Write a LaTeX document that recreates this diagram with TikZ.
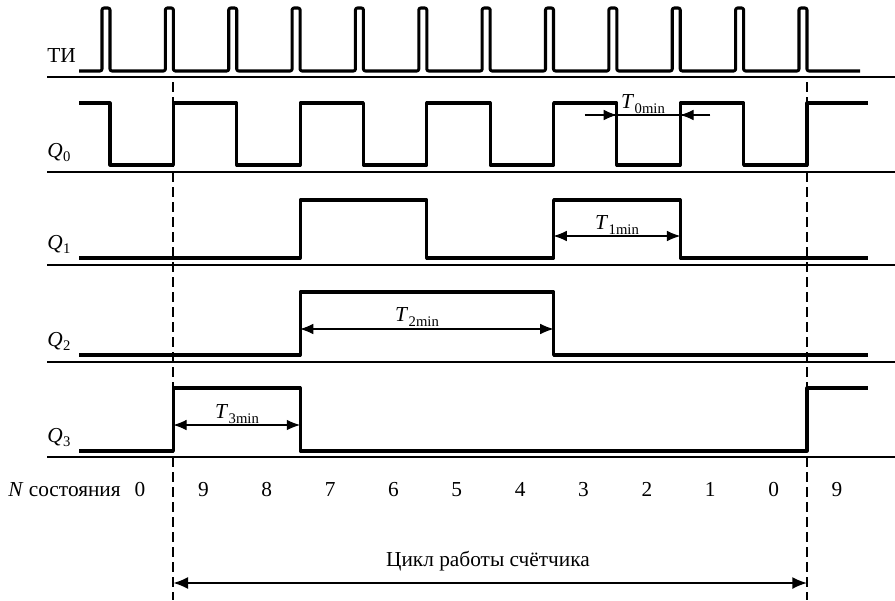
\documentclass[tikz,border=0pt]{standalone}
\usepackage{fontspec}
\setmainfont{Liberation Serif}
\usetikzlibrary{arrows.meta,positioning,calc}
\tikzstyle{signal} = [draw, line width=2.3pt, line join=round]
\tikzstyle{clock} = [signal, rounded corners=1.5pt]
\tikzstyle{axis} = [draw, line width=1.1pt]
\tikzstyle{cycle} = [draw, line width=1.5pt, dash pattern=on 7.5pt off 3.75pt]
\tikzstyle{dim} = [draw, line width=0.8pt, {Latex[length=10pt,width=8pt]}-{Latex[length=10pt,width=8pt]}]
\tikzstyle{bigdim} = [draw, line width=1.2pt, {Latex[length=11pt,width=9pt]}-{Latex[length=11pt,width=9pt]}]
\tikzstyle{sigtext} = [inner sep=0pt, font=\fontsize{16}{18}\selectfont]
\newcommand{\tmin}[1]{\textit{T}\kern0.3pt\raisebox{-0.55ex}{\fontsize{11}{12}\selectfont #1min}}
\newcommand{\qsig}[1]{\textit{Q}\kern0.3pt\raisebox{-0.45ex}{\fontsize{11}{12}\selectfont #1}}

\begin{document}
\begin{tikzpicture}[x=0.75pt, y=-0.75pt]
    \useasboundingbox (0,0) rectangle (895,600);
    % Clock edges
    \foreach \k in {0,...,11}
        \coordinate (e\k) at ({110+63.36*\k},0);
    % Base lines
    \foreach \y in {77,172,265,362,457}
        \path [axis] (47,\y) -- (895,\y);
    % Waveforms
    \path [clock] (79,71) \foreach \k in {0,...,11} {
        -- ($(e\k)+(-8,71)$) -- ($(e\k)+(-8,8)$) -- ($(e\k)+(0,8)$) -- ($(e\k)+(0,71)$)} -- (860,71);
    \path [signal] (79,103) \foreach \k in {0,2,...,10} {
        -- ($(e\k)+(0,103)$) -- ($(e\k)+(0,165)$) -- ($(e\k)+(63.36,165)$) -- ($(e\k)+(63.36,103)$)} -- (868,103);
    \path [signal] (79,258) -- ($(e3)+(0,258)$) -- ($(e3)+(0,200)$) -- ($(e5)+(0,200)$) -- ($(e5)+(0,258)$)
        -- ($(e7)+(0,258)$) -- ($(e7)+(0,200)$) -- ($(e9)+(0,200)$) -- ($(e9)+(0,258)$) -- (868,258);
    \path [signal] (79,355) -- ($(e3)+(0,355)$) -- ($(e3)+(0,292)$) -- ($(e7)+(0,292)$) -- ($(e7)+(0,355)$) -- (868,355);
    \path [signal] (79,451) -- ($(e1)+(0,451)$) -- ($(e1)+(0,388)$) -- ($(e3)+(0,388)$) -- ($(e3)+(0,451)$)
        -- ($(e11)+(0,451)$) -- ($(e11)+(0,388)$) -- (868,388);
    % Cycle bounds
    \coordinate (cs) at ($(e1)+(0,82)$);
    \coordinate (ce) at ($(e11)+(0,82)$);
    \path [cycle] (cs) -- ($(e1)+(0,600)$);
    \path [cycle] (ce) -- ($(e11)+(0,600)$);
    % Place nodes
    \node [sigtext, anchor=base west] (ti) at (47,62) {ТИ};
    \node [sigtext, anchor=base west] (q0) at (47,157) {\qsig{0}};
    \node [sigtext, anchor=base west] (q1) at (47,249) {\qsig{1}};
    \node [sigtext, anchor=base west] (q2) at (47,346) {\qsig{2}};
    \node [sigtext, anchor=base west] (q3) at (47,442) {\qsig{3}};
    \node [sigtext, anchor=base west] (nst) at (8,496) {\textit{N} состояния};
    \node [sigtext, anchor=base] (s0) at (140,496) {0};
    \foreach \n [count=\i] in {9,8,7,6,5,4,3,2,1,0,9}
        \node [sigtext, anchor=base] (s\i) at ({140+63.36*\i},496) {\n};
    \node [sigtext, anchor=base] (t0) at (643,108) {\tmin{0}};
    \node [sigtext, anchor=base] (t1) at (617,229) {\tmin{1}};
    \node [sigtext, anchor=base] (t2) at (417,321) {\tmin{2}};
    \node [sigtext, anchor=base] (t3) at (237,418) {\tmin{3}};
    \node [sigtext, anchor=base] (cyc) at (488,566) {Цикл работы счётчика};
    % Draw edges
    \coordinate (a0l) at ($(e8)+(-32,115)$);
    \coordinate (a0r) at ($(e9)+(30,115)$);
    \path [draw, line width=0.8pt] (a0l) -- (a0r);
    \path [draw, line width=0.8pt, -{Latex[length=10pt,width=8pt]}] (a0l) -- ($(e8)+(0,115)$);
    \path [draw, line width=0.8pt, -{Latex[length=10pt,width=8pt]}] (a0r) -- ($(e9)+(0,115)$);
    \path [dim] ($(e7)+(0,236)$) -- ($(e9)+(0,236)$);
    \path [dim] ($(e3)+(0,329)$) -- ($(e7)+(0,329)$);
    \path [dim] ($(e1)+(0,425)$) -- ($(e3)+(0,425)$);
    \path [bigdim] ($(e1)+(0,583)$) -- ($(e11)+(0,583)$);
\end{tikzpicture}
\end{document}
